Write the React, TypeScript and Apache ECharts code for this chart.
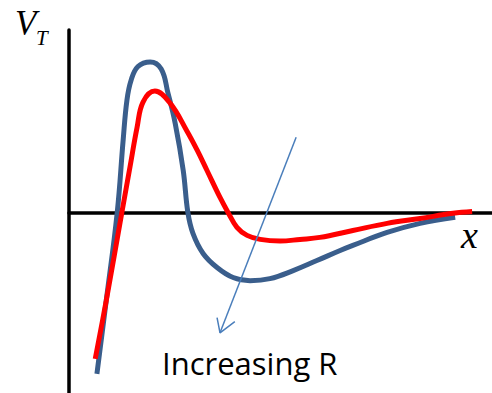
import React, { useEffect, useRef } from "react";
import * as echarts from "echarts";

// Chart units: x 0..10 along the x axis, y -9.9..10 (0 = horizontal axis)
const blueX = [0.66, 0.88, 1.14, 1.28, 1.37, 1.47, 1.63, 1.92, 2.18, 2.34, 2.51, 2.7, 2.81, 2.93, 3.17, 3.5, 3.88, 4.28, 4.75, 5.3, 5.86, 6.41, 6.71, 7.52, 8.3, 9.13];
const blueY = [-8.85, -4.84, 0, 3.96, 6.16, 7.26, 8.0, 8.25, 7.86, 6.54, 4.89, 2.31, 0, -1.15, -2.25, -3.02, -3.57, -3.74, -3.63, -3.19, -2.64, -2.09, -1.81, -1.1, -0.6, -0.27];

const redX = [0.62, 0.88, 1.25, 1.44, 1.61, 1.75, 2.03, 2.39, 2.79, 3.03, 3.26, 3.57, 3.76, 3.97, 4.21, 4.52, 4.99, 5.46, 5.93, 6.71, 7.52, 8.3, 9.08, 9.53];
const redY = [-8.03, -4.84, 0, 2.47, 4.67, 6.05, 6.65, 5.99, 4.45, 3.41, 2.31, 0.82, 0, -0.82, -1.26, -1.48, -1.57, -1.48, -1.37, -0.99, -0.6, -0.33, -0.05, 0.05];

const arrowShaftX = [5.37, 3.57];
const arrowShaftY = [4.12, -6.6];
const arrowHeadX = [3.5, 3.57, 3.92];
const arrowHeadY = [-5.77, -6.6, -5.99];

const yLabel = "V";
const ySub = "T";
const xLabel = "x";
const note = "Increasing R";

const zip = (xs: number[], ys: number[]) => xs.map((x, i) => [x, ys[i]]);

export default function App() {
  const ref = useRef<HTMLDivElement>(null);
  useEffect(() => {
    if (!ref.current) return;
    const chart = echarts.init(ref.current, null, { renderer: "svg" });
    const axisCommon = {
      type: "value" as const,
      axisTick: { show: false },
      axisLabel: { show: false },
      splitLine: { show: false },
      axisLine: { show: true, onZero: true, lineStyle: { color: "#000", width: 3.5 } },
    };
    chart.setOption({
      animation: false,
      backgroundColor: "#fff",
      grid: { left: 69, right: 0, top: 30, bottom: 0 },
      xAxis: { ...axisCommon, min: 0, max: 10 },
      yAxis: { ...axisCommon, min: -9.9, max: 10 },
      series: [
        {
          type: "line",
          data: zip(blueX, blueY),
          smooth: 0.4,
          symbol: "none",
          lineStyle: { color: "#3A5E8C", width: 5 },
          z: 3,
        },
        {
          type: "line",
          data: zip(redX, redY),
          smooth: 0.4,
          symbol: "none",
          lineStyle: { color: "#FF0000", width: 5 },
          z: 4,
        },
        {
          type: "line",
          data: zip(arrowShaftX, arrowShaftY),
          symbol: "none",
          lineStyle: { color: "#4A7EBB", width: 1.5 },
          z: 5,
        },
        {
          type: "line",
          data: zip(arrowHeadX, arrowHeadY),
          symbol: "none",
          lineStyle: { color: "#4A7EBB", width: 1.5 },
          z: 5,
        },
      ],
      graphic: [
        {
          type: "text",
          x: 15,
          y: 23,
          style: { text: yLabel, font: 'italic 35px "Liberation Serif"', fill: "#000", align: "left", verticalAlign: "middle" },
        },
        {
          type: "text",
          x: 36,
          y: 38,
          style: { text: ySub, font: 'italic 21px "Liberation Serif"', fill: "#000", align: "left", verticalAlign: "middle" },
        },
        {
          type: "text",
          x: 461,
          y: 235,
          style: { text: xLabel, font: 'italic 38px "Liberation Serif"', fill: "#000", align: "left", verticalAlign: "middle" },
        },
        {
          type: "text",
          x: 162,
          y: 363,
          style: { text: note, font: '31px "Open Sans"', fill: "#000", align: "left", verticalAlign: "middle" },
        },
      ],
    });
    return () => chart.dispose();
  }, []);
  return <div ref={ref} style={{ position: "fixed", left: 0, top: 0, width: 492, height: 393 }} />;
}
